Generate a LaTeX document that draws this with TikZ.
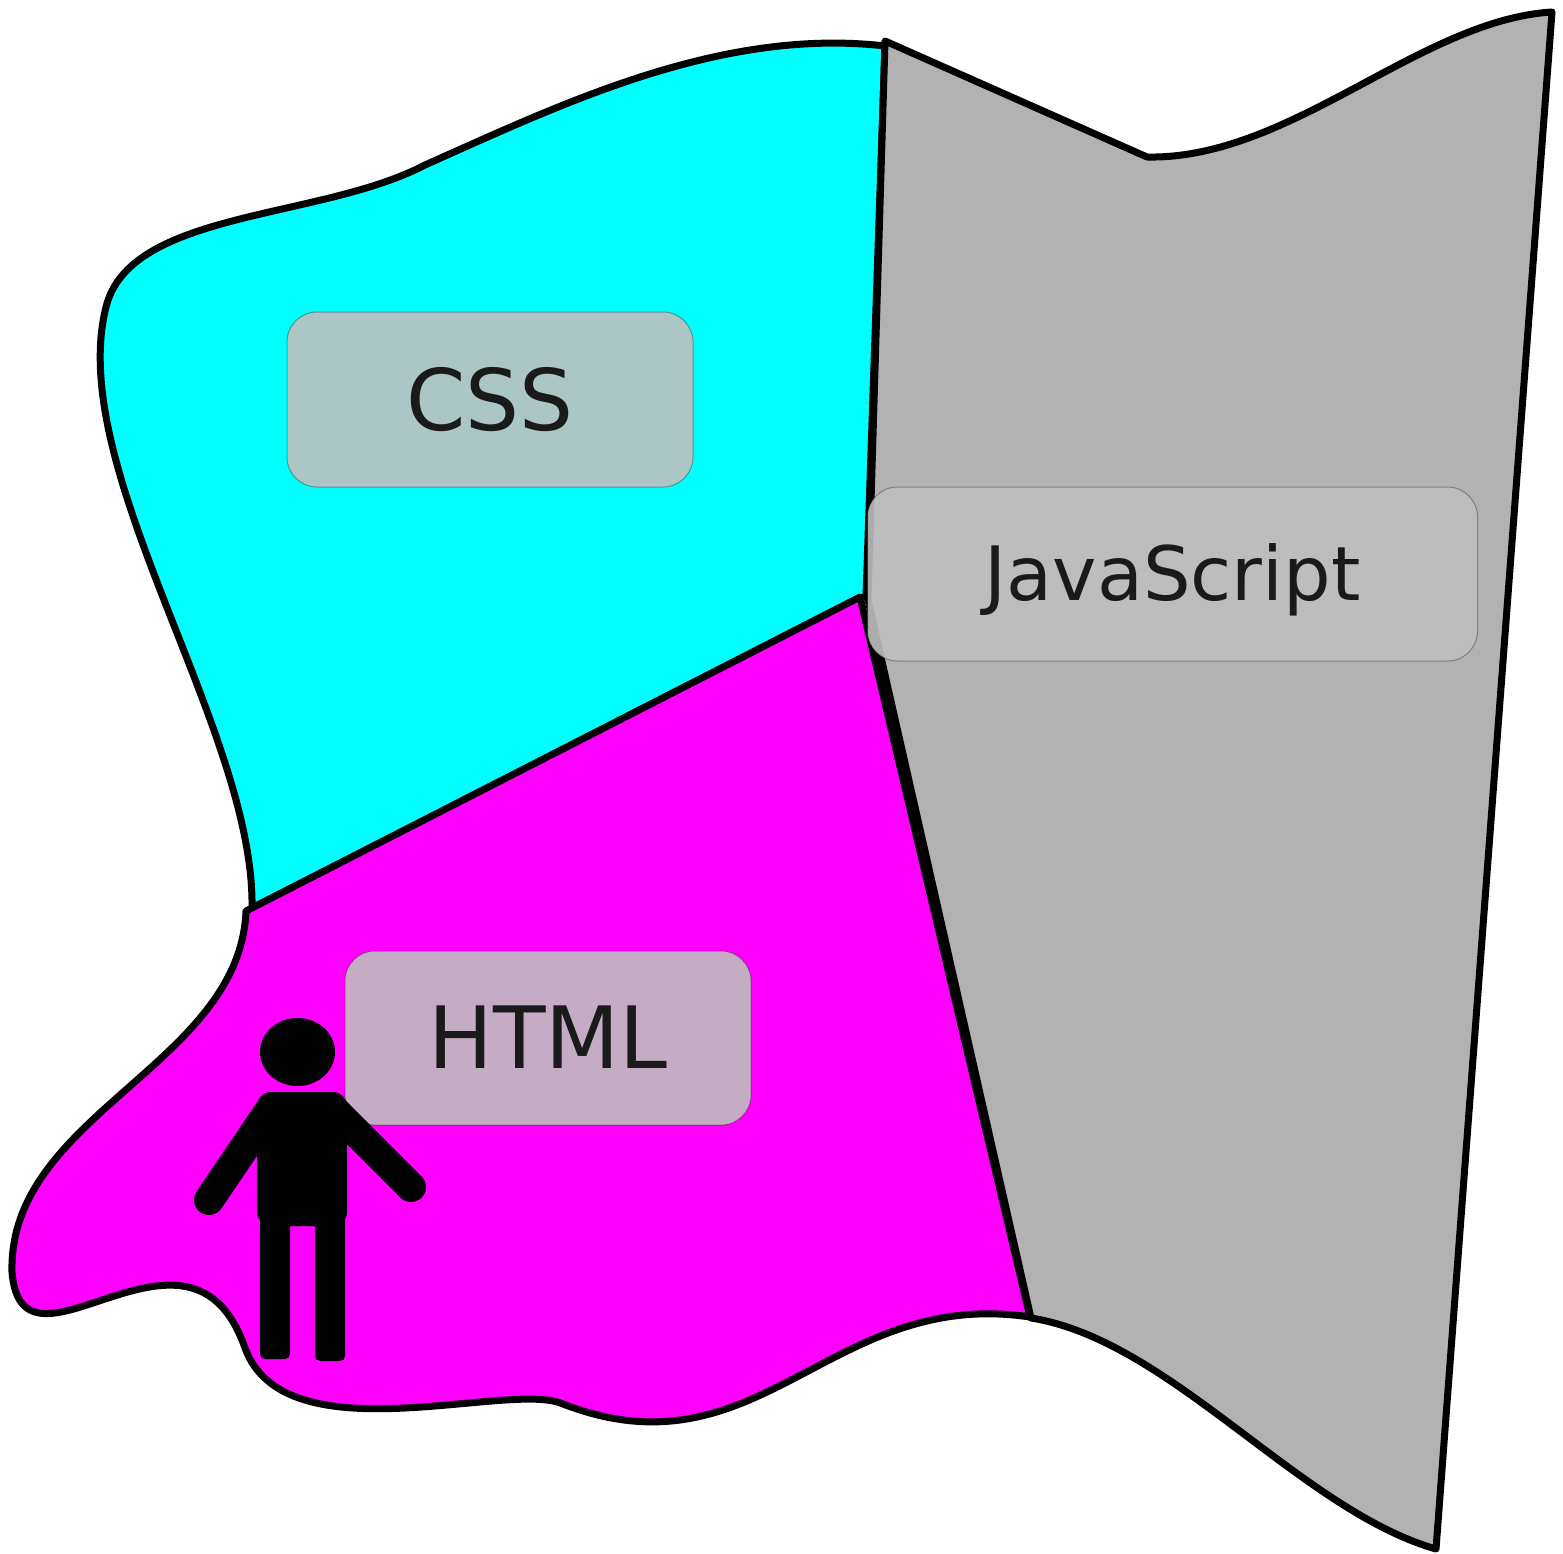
\documentclass[tikz,border=0pt]{standalone}
\usepackage{fontspec}
\setmainfont{DejaVu Sans}
\definecolor{txt}{HTML}{1A1A1A}
\definecolor{grayfill}{HTML}{B2B2B2}
\definecolor{boxfill}{HTML}{BFBFBF}
\definecolor{cssfill}{HTML}{00FFFF}
\definecolor{htmlfill}{HTML}{FF00FF}
\tikzset{
  region/.style={draw=black,line width=7pt,line join=round,line cap=round},
  labelbox/.style={rectangle,rounded corners=30pt,fill=boxfill,fill opacity=0.9,draw=black,draw opacity=0.3,line width=1pt,inner sep=0pt,text opacity=1,text=txt,anchor=center,text depth=0pt},
  person/.style={fill=black,draw=none},
  limb/.style={draw=black,line width=30pt,line cap=round}
}
\begin{document}
\begin{tikzpicture}[x=1pt,y=-1pt]
\useasboundingbox (0,0) rectangle (1563,1554);
% regions
\draw[region,fill=cssfill] (885,46) .. controls (720,27) and (560,105) .. (425,165)
  .. controls (320,220) and (130,210) .. (106,307)
  .. controls (65,470) and (255,730) .. (252,908) -- (866,596) -- cycle;
\draw[region,fill=grayfill] (885,41) -- (1147,157)
  .. controls (1290,160) and (1420,20) .. (1552,12) -- (1436,1549)
  .. controls (1300,1510) and (1170,1340) .. (1031,1318) -- (868,600) -- cycle;
\draw[region,fill=htmlfill] (246,911) -- (860,597) -- (1030,1317)
  .. controls (830,1287) and (760,1480) .. (563,1404)
  .. controls (510,1380) and (285,1458) .. (245,1348)
  .. controls (190,1190) and (22,1395) .. (12,1272)
  .. controls (8,1115) and (240,1065) .. (246,911) -- cycle;
% labels
\node[labelbox,minimum width=406pt,minimum height=175pt,text height=61pt] (css) at (490,399.5) {\fontsize{85pt}{85pt}\selectfont CSS};
\node[labelbox,minimum width=610pt,minimum height=174pt,text height=52pt] (js) at (1172.5,574) {\fontsize{75pt}{75pt}\selectfont JavaScript};
\node[labelbox,minimum width=406pt,minimum height=174pt,text height=60pt] (html) at (548,1038) {\fontsize{86pt}{86pt}\selectfont HTML};
% person
\fill[person] (297.5,1052) ellipse [x radius=37.5, y radius=34];
\draw[limb] (209,1200) -- (272,1107);
\draw[limb] (411,1187) -- (335,1111);
\fill[person,rounded corners=14pt] (257,1226) -- (257,1092) -- (347,1092) -- (347,1226) -- cycle;
\fill[person] (260,1210) [rounded corners=5pt] -- (260,1359) -- (290,1359) [sharp corners] -- (290,1226) -- (315,1226) [rounded corners=5pt] -- (315,1361) -- (345,1361) [sharp corners] -- (345,1210) -- cycle;
\end{tikzpicture}
\end{document}
